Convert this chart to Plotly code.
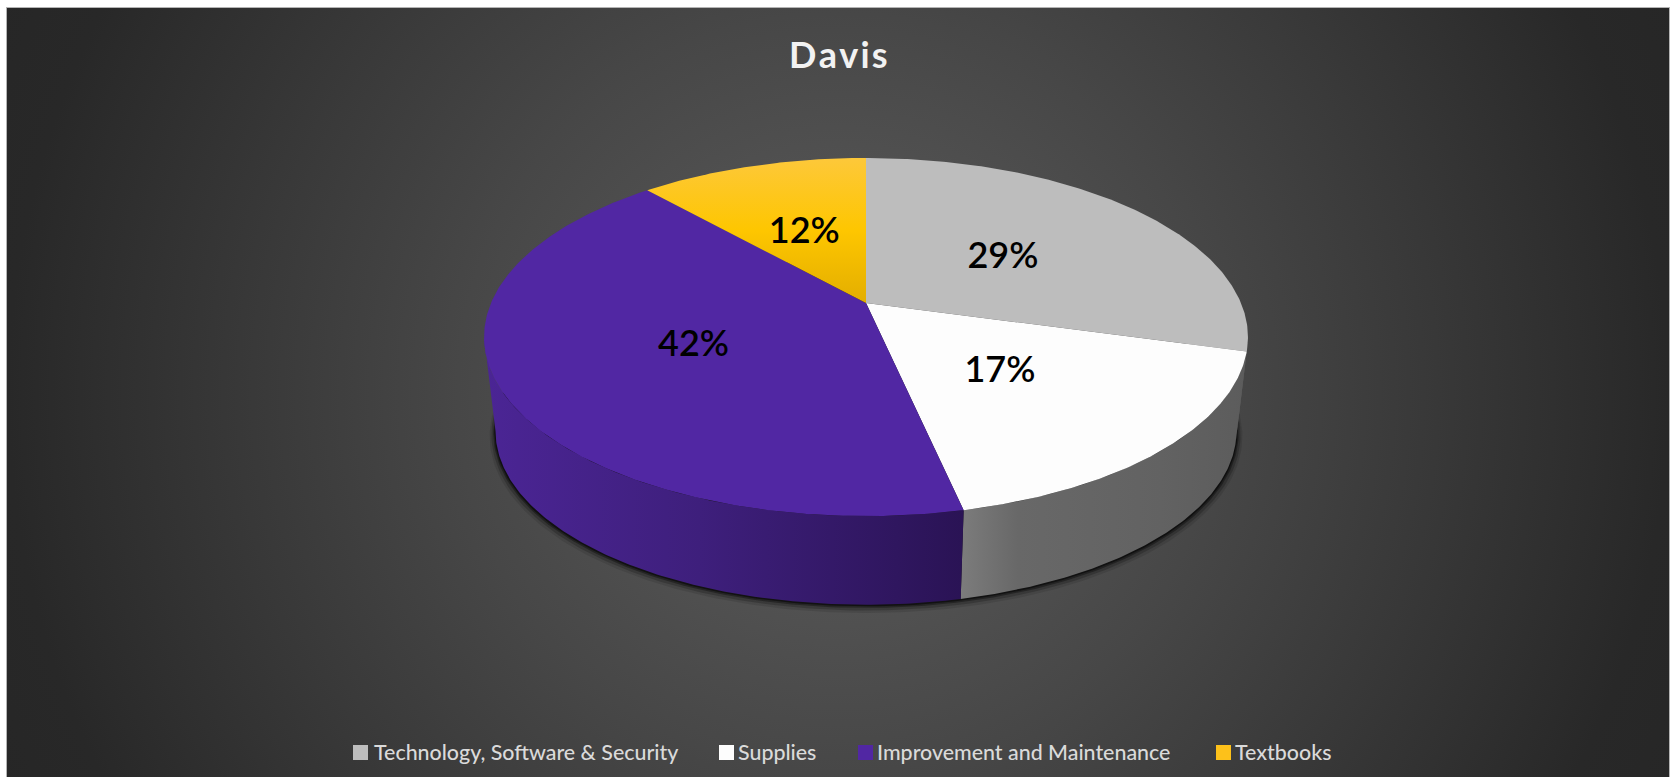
import numpy as np
import plotly.graph_objects as go

# ---- data ----
categories = ["Technology, Software & Security", "Supplies", "Improvement and Maintenance", "Textbooks"]
shares = [29.3, 17.3, 41.8, 11.6]
title_text = "Davis"

# ---- styles ----
top_colors = ["#BDBDBD", "#FDFDFD", "#5127A3", None]
wall_scales = [
    [[0, "#666666"], [1, "#5A5A5A"]],
    [[0, "#7C7C7C"], [0.2, "#686868"], [0.7, "#626262"], [1, "#5C5C5C"]],
    [[0, "#4B2595"], [0.45, "#3E1F7C"], [1, "#2A1355"]],
    [[0, "#D0A000"], [1, "#D0A000"]],
]
gold_scale = [[0, "#E3AE00"], [0.5, "#FEC600"], [1, "#FDC83A"]]
legend_colors = ["#BDBDBD", "#FDFDFD", "#5127A3", "#FDC11A"]
bg_scale = [[0, "#585858"], [0.2, "#525252"], [0.38, "#474747"], [0.6, "#383838"], [0.83, "#282828"], [1, "#252525"]]

# ---- view geometry (pixels of the 1674x777 canvas) ----
W, H = 1674, 777
PX0, PX1, PY0, PY1 = 7, 1669, 8, 777
CX, CY = 866, 303
KU, KV, P = 375.0, 172.6, 0.19
DEPTH_DY, DEPTH_S = 95.0, 0.97
LABEL_R = 0.49
TANGENT = float(np.degrees(np.arccos(-P)))


def project(deg, s=1.0, dy=0.0, r=1.0):
    a = np.radians(np.asarray(deg, float))
    X, Y = r * np.sin(a), r * np.cos(a)
    w = 1 + P * Y
    return CX + s * KU * X / w, CY + dy - s * KV * Y / w


def arc(a0, a1, n=None):
    n = n or max(int(abs(a1 - a0) * 2), 8)
    return np.linspace(a0, a1, n)


edges = np.concatenate([[0], np.cumsum(shares)]) / sum(shares) * 360
fig = go.Figure()

# background
BG = 1000
bx, by = 838, 393
fig.add_trace(go.Scatter(x=[bx - BG, bx + BG, bx + BG, bx - BG, bx - BG], y=[by - BG, by - BG, by + BG, by + BG, by - BG],
                         mode="lines", line=dict(width=0), fill="toself",
                         fillgradient=dict(type="radial", colorscale=bg_scale), hoverinfo="skip"))

# shadow
for s, d, al in [(1.016, 5, 0.10), (1.011, 3.5, 0.2), (1.006, 2, 0.35), (1.003, 1, 0.5)]:
    x, y = project(arc(0, 360, 360), DEPTH_S * s, DEPTH_DY + d)
    fig.add_trace(go.Scatter(x=x, y=y, mode="lines", line=dict(width=0), fill="toself",
                             fillcolor=f"rgba(0,0,0,{al})", hoverinfo="skip"))

# walls: only the part that faces the viewer, up to the silhouette tangents
xv0, xv1 = project([360 - TANGENT])[0][0], project([TANGENT])[0][0]
for i in range(4):
    lo, hi = max(edges[i], TANGENT), min(edges[i + 1], 360 - TANGENT)
    if hi <= lo:
        continue
    a = arc(lo, hi)
    x1, y1 = project(a)
    x2, y2 = project(a[::-1], DEPTH_S, DEPTH_DY)
    fig.add_trace(go.Scatter(
        x=np.r_[x1, x2, x1[0]], y=np.r_[y1, y2, y1[0]], mode="lines", line=dict(width=0), fill="toself",
        fillgradient=dict(type="horizontal", colorscale=wall_scales[i],
                          start=float(max(min(x1.min(), x2.min()), xv0)), stop=float(min(max(x1.max(), x2.max()), xv1))),
        hoverinfo="skip"))

# top faces
for i in range(4):
    x, y = project(arc(edges[i], edges[i + 1]))
    xs, ys = np.r_[CX, x, CX], np.r_[CY, y, CY]
    kw = dict(fillcolor=top_colors[i]) if top_colors[i] else dict(
        fillgradient=dict(type="vertical", colorscale=gold_scale))
    fig.add_trace(go.Scatter(x=xs, y=ys, mode="lines", line=dict(width=0), fill="toself", hoverinfo="skip", **kw))

# percentage labels
mids = (edges[:-1] + edges[1:]) / 2
lx, ly = project(mids, r=LABEL_R)
fig.add_trace(go.Scatter(x=lx - 1.5, y=ly + 4, mode="text", text=[f"{round(v)}%" for v in shares],
                         textposition="middle center", hoverinfo="skip",
                         textfont=dict(family="Lato", size=36, color="#000000", weight=600)))

# legend row
swatch_x = [353, 719, 858, 1216]
text_x = [372, 736, 875, 1233]
for c, col, sx, tx in zip(categories, legend_colors, swatch_x, text_x):
    fig.add_shape(type="rect", x0=sx, x1=sx + 15, y0=745, y1=760, fillcolor=col, line=dict(width=0))
    fig.add_annotation(x=tx, y=752, text=c, showarrow=False, xanchor="left", yanchor="middle",
                       font=dict(family="Lato", size=21.4, color="#DADADA", weight=500))

fig.add_annotation(x=838, y=54, text="\u200a".join(title_text), showarrow=False, xanchor="center", yanchor="middle",
                   font=dict(family="Lato", size=36, color="#F2F2F2", weight="bold"))

fig.update_layout(
    width=W, height=H, showlegend=False, paper_bgcolor="#FFFFFF", plot_bgcolor="#2A2A2A",
    margin=dict(l=PX0, r=W - PX1, t=PY0, b=H - PY1, pad=0),
    xaxis=dict(range=[PX0, PX1], visible=True, showgrid=False, zeroline=False, showticklabels=False, ticks="",
               showline=True, linecolor="#B4B4B4", linewidth=1, mirror=True, fixedrange=True),
    yaxis=dict(range=[PY1, PY0], visible=True, showgrid=False, zeroline=False, showticklabels=False, ticks="",
               showline=True, linecolor="#B4B4B4", linewidth=1, mirror=True, fixedrange=True),
)
fig.write_html("out.html", config={"displayModeBar": False},
               post_script="document.body.style.margin='0';document.body.style.overflow='hidden';")
